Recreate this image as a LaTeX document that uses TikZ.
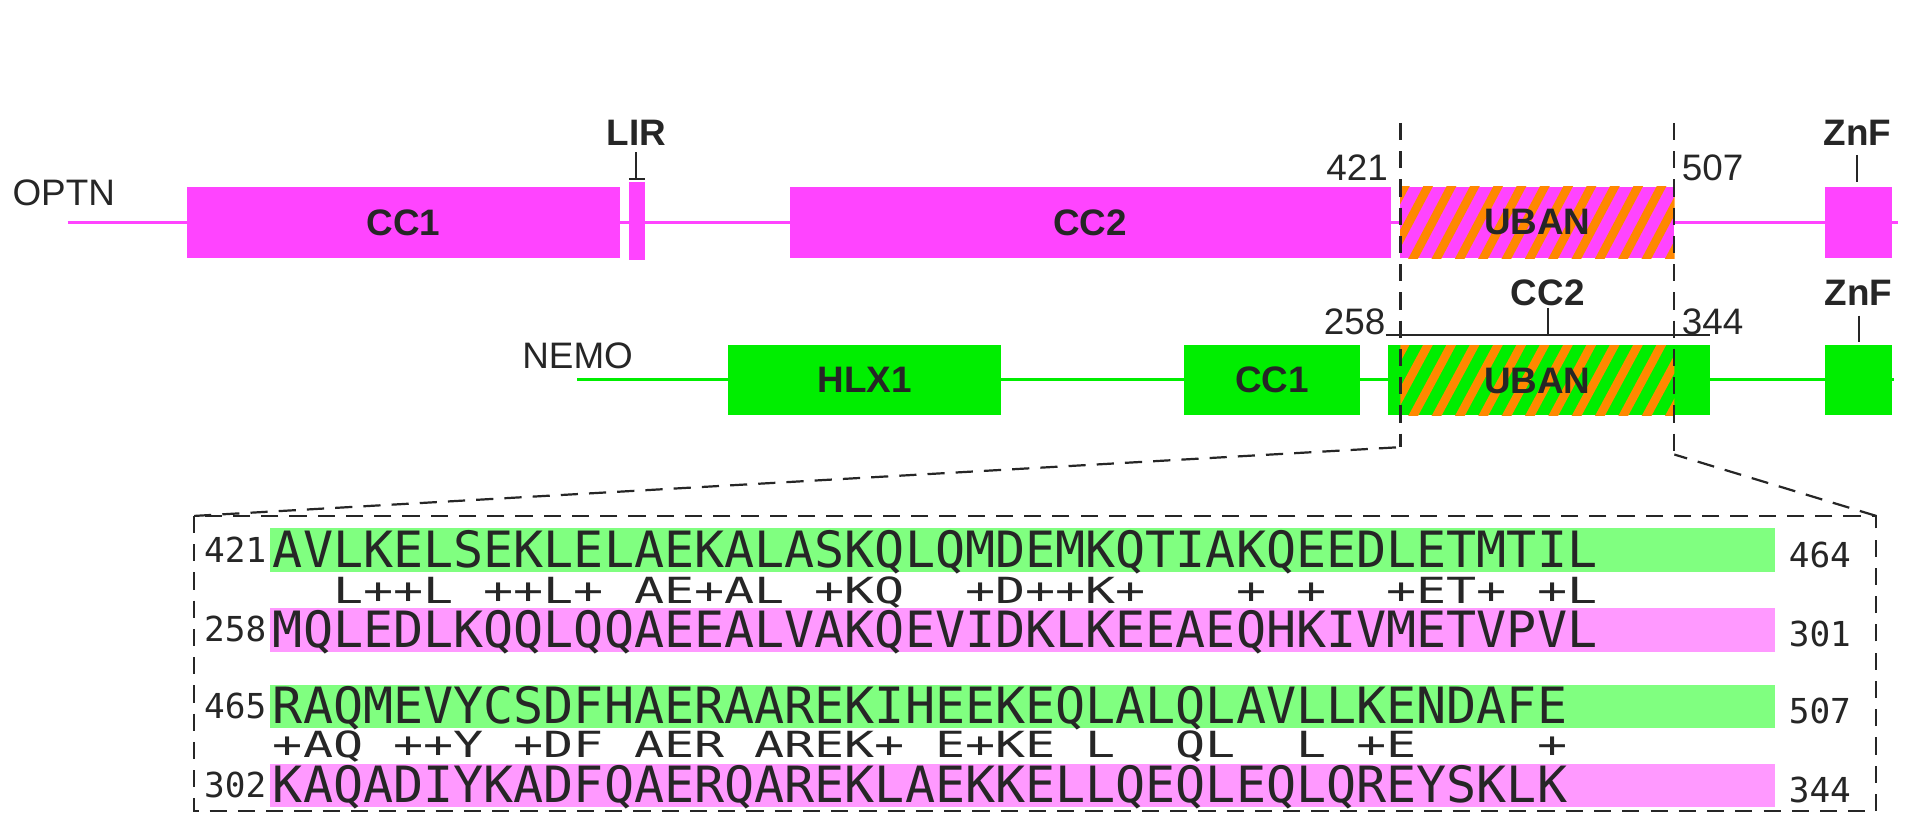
\documentclass[tikz,border=0pt]{standalone}
\usepackage{fontspec}
\setmainfont{Liberation Sans}
\setmonofont{DejaVu Sans Mono}
\usetikzlibrary{positioning}
\definecolor{optn}{HTML}{FF44FF}
\definecolor{nemo}{HTML}{00EE00}
\definecolor{hatch}{HTML}{FF8800}
\definecolor{optnbg}{HTML}{FF99FF}
\definecolor{nemobg}{HTML}{80FF80}
\tikzset{
  dlabel/.style={inner sep=0pt,font=\fontsize{30}{30}\selectfont\bfseries,text=black!85},
  optnbox/.style={dlabel,fill=optn,minimum height=58},
  nemobox/.style={dlabel,fill=nemo,minimum height=57},
  plabel/.style={font=\fontsize{30}{30}\selectfont,text=black!85,inner sep=0pt},
  seq/.style={font=\fontsize{40.7}{40}\ttfamily,anchor=base west,inner sep=0pt,text=black!85},
  cons/.style={seq,yscale=0.72},
  num/.style={font=\fontsize{28}{28}\ttfamily,inner sep=0pt,text=black!85},
  zoomline/.style={dashed,dash pattern=on 14 off 9,line width=1.8,black!85},
}
\begin{document}
\begin{tikzpicture}[x=1pt,y=-1pt]
  \useasboundingbox (0,0) rectangle (1563,673);
  % OPTN
  \node [plabel,anchor=west] (optnlab) at (10,157) {OPTN};
  \coordinate (o0) at (55,181);
  \coordinate (o1) at (1545,181);
  \draw [optn,line width=3] (o0) -- (o1);
  \node [optnbox,minimum width=353] (occ1) at (328.5,181) {CC1};
  \node [optnbox,minimum width=13,minimum height=64] (olir) at (518.5,180) {};
  \node [optnbox,minimum width=489] (occ2) at (887.5,181) {CC2};
  \node [optnbox,minimum width=223] (ouban) at (1251.5,181) {};
  \node [optnbox,minimum width=54] (oznf) at (1513,181) {};
  \begin{scope}
    \clip (ouban.south west) rectangle (ouban.north east);
    \foreach \x in {1110,1129,...,1400}
      \draw [hatch,line width=7] (\x,215) -- (\x+36,147);
  \end{scope}
  \node [dlabel] at (ouban) {UBAN};
  \node [dlabel] (lirlab) at (518,108) {LIR};
  \draw [line width=1.5,black!85] (518,124) -- (518,146) (512,146) -- (525,146);
  \node [dlabel] (oznflab) at (1512,108) {ZnF};
  \draw [line width=1.5,black!85] (1512,126) -- (1512,148);
  \node [plabel,anchor=base east] (p421) at (1130,147) {421};
  \node [plabel,anchor=base west] (p507) at (1369,147) {507};
  % NEMO
  \node [plabel,anchor=west] (nemolab) at (425,290) {NEMO};
  \coordinate (n0) at (470,309);
  \coordinate (n1) at (1542,309);
  \draw [nemo,line width=3] (n0) -- (n1);
  \node [nemobox,minimum width=222] (nhlx) at (704,309.5) {HLX1};
  \node [nemobox,minimum width=143] (ncc1) at (1035.5,309.5) {CC1};
  \node [nemobox,minimum width=262] (nuban) at (1261,309.5) {};
  \node [nemobox,minimum width=54] (nznf) at (1513,309.5) {};
  \begin{scope}
    \clip (1140,281) rectangle (1363,338);
    \foreach \x in {1110,1129,...,1400}
      \draw [hatch,line width=7] (\x,343) -- (\x+36,276);
  \end{scope}
  \node [dlabel] at (1251.5,310) {UBAN};
  \node [dlabel] (cc2lab) at (1260,238) {CC2};
  \draw [line width=1.8,black!85] (1128,273) -- (1392,273) (1260,273) -- (1260,251);
  \node [dlabel] (nznflab) at (1513,238) {ZnF};
  \draw [line width=1.5,black!85] (1513,257) -- (1513,278);
  \node [plabel,anchor=base east] (p258) at (1128,272) {258};
  \node [plabel,anchor=base west] (p344) at (1369,272) {344};
  % UBAN borders and zoom
  \coordinate (da) at (1140,100);
  \coordinate (db) at (1140,364);
  \coordinate (dc) at (1363,100);
  \coordinate (dd) at (1363,370);
  \draw [zoomline] (da) -- (db);
  \draw [zoomline] (dc) -- (dd);
  \node [draw=none,inner sep=0pt,minimum width=1369,minimum height=240,anchor=north west] (seqbox) at (158,420) {};
  \draw [zoomline] (seqbox.north west) -- (db);
  \draw [zoomline] (seqbox.north east) -- (dd);
  \draw [zoomline] (seqbox.north west) rectangle (seqbox.south east);
  % alignment
  \fill [nemobg] (220,430) rectangle (1445,466);
  \fill [optnbg] (220,495) rectangle (1445,531);
  \fill [nemobg] (220,558) rectangle (1445,593);
  \fill [optnbg] (220,622) rectangle (1445,657);
  \node [seq] (s1) at (222,462) {AVLKELSEKLELAEKALASKQLQMDEMKQTIAKQEEDLETMTIL};
  \node [cons] (c1) at (222,491) {~~L++L~++L+~AE+AL~+KQ~~+D++K+~~~+~+~~+ET+~+L};
  \node [seq] (s2) at (222,527) {MQLEDLKQQLQQAEEALVAKQEVIDKLKEEAEQHKIVMETVPVL};
  \node [seq] (s3) at (222,589) {RAQMEVYCSDFHAERAAREKIHEEKEQLALQLAVLLKENDAFE};
  \node [cons] (c2) at (222,617) {+AQ~++Y~+DF~AER~AREK+~E+KE~L~~QL~~L~+E~~~~+};
  \node [seq] (s4) at (222,653) {KAQADIYKADFQAERQAREKLAEKKELLQEQLEQLQREYSKLK};
  \node [num,anchor=base east] at (217,458) {421};
  \node [num,anchor=base east] at (217,522) {258};
  \node [num,anchor=base east] at (217,585) {465};
  \node [num,anchor=base east] at (217,649) {302};
  \node [num,anchor=base west] at (1456,462) {464};
  \node [num,anchor=base west] at (1456,526) {301};
  \node [num,anchor=base west] at (1456,589) {507};
  \node [num,anchor=base west] at (1456,653) {344};
\end{tikzpicture}
\end{document}
